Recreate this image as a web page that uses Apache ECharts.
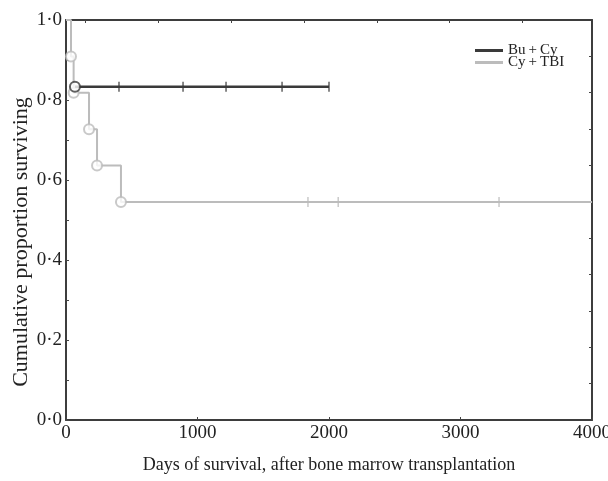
<!DOCTYPE html>
<html>
<head>
<meta charset="utf-8">
<script src="https://cdn.jsdelivr.net/npm/echarts@6/dist/echarts.min.js"></script>
<style>
  html, body { margin: 0; padding: 0; background: #fff; }
  #main { width: 608px; height: 481px; }
</style>
</head>
<body>
<div id="main"></div>
<script>
// Bu+Cy: one death then flat
var buCyTimes = [68, 2000];
var buCySurv = [0.833, 0.833];
var buCyEventTimes = [68];
var buCyEventSurv = [0.833];
var buCyCensorTimes = [403, 890, 1217, 1643, 2000];

// Cy+TBI
var cyTbiTimes = [0, 38, 58, 175, 236, 418, 4000];
var cyTbiSurv = [1.0, 0.909, 0.818, 0.727, 0.636, 0.545, 0.545];
var cyTbiEventTimes = [38, 58, 175, 236, 418];
var cyTbiEventSurv = [0.909, 0.818, 0.727, 0.636, 0.545];
var cyTbiCensorTimes = [1840, 2070, 3293];

var topTicks = [144, 700, 1255, 1810, 2365, 2912, 3468];
var rightTicks = [1/11, 2/11, 3/11, 4/11, 5/11, 6/11, 7/11, 8/11, 9/11, 10/11];
var leftTicks = [0, 0.1, 0.2, 0.3, 0.4, 0.5, 0.6, 0.7, 0.8, 0.9, 1.0];

var dark = '#3a3a3a';
var light = '#bcbcbc';
var serif = '"Liberation Serif", "DejaVu Serif", serif';

function zip(xs, ys) {
  return xs.map(function (x, i) { return [x, ys[i]]; });
}
function censor(xs, y) {
  return xs.map(function (x) { return [x, y]; });
}

var myChart = echarts.init(document.getElementById('main'));

var axisLine = { show: true, onZero: false, lineStyle: { color: '#3d3d3d', width: 2 } };

var option = {
  animation: false,
  grid: { left: 66, right: 16, top: 20, bottom: 61, outerBoundsMode: 'none', containLabel: false },
  legend: {
    orient: 'vertical',
    left: 470,
    top: 38,
    itemWidth: 28,
    itemHeight: 3,
    itemGap: -3,
    icon: 'rect',
    data: ['Bu\u2009+\u2009Cy', 'Cy\u2009+\u2009TBI'],
    textStyle: { fontFamily: serif, fontSize: 15, color: '#222' }
  },
  xAxis: [{
    type: 'value',
    position: 'bottom',
    min: 0,
    max: 4000,
    interval: 1000,
    axisLine: axisLine,
    axisTick: { show: true, inside: true, length: 3, lineStyle: { color: '#444' } },
    splitLine: { show: false },
    axisLabel: {
      fontFamily: serif, fontSize: 19, color: '#222', margin: 4,
      formatter: function (v) { return String(v); }
    },
    name: 'Days of survival, after bone marrow transplantation',
    nameLocation: 'middle',
    nameGap: 36,
    nameTextStyle: { fontFamily: serif, fontSize: 18, color: '#222' }
  }, {
    type: 'value',
    position: 'top',
    min: 0,
    max: 4000,
    axisLine: axisLine,
    axisTick: { show: true, inside: true, length: 3, customValues: topTicks, lineStyle: { color: '#444' } },
    axisLabel: { show: false },
    splitLine: { show: false }
  }],
  yAxis: [{
    type: 'value',
    position: 'left',
    min: 0,
    max: 1,
    interval: 0.2,
    axisLine: axisLine,
    axisTick: { show: true, inside: true, length: 3, customValues: leftTicks, lineStyle: { color: '#444' } },
    splitLine: { show: false },
    axisLabel: {
      fontFamily: serif, fontSize: 19, color: '#222', margin: 4,
      formatter: function (v) { return v.toFixed(1).replace('.', '\u00b7'); }
    },
    name: 'Cumulative proportion surviving',
    nameLocation: 'middle',
    nameGap: 34,
    nameMoveOverlap: false,
    nameTextStyle: { fontFamily: serif, fontSize: 22, color: '#222', padding: [0, 0, 0, -44] }
  }, {
    type: 'value',
    position: 'right',
    min: 0,
    max: 1,
    axisLine: axisLine,
    axisTick: { show: true, inside: true, length: 3, customValues: rightTicks, lineStyle: { color: '#444' } },
    axisLabel: { show: false },
    splitLine: { show: false }
  }],
  series: [
    {
      name: 'Cy\u2009+\u2009TBI',
      type: 'line',
      step: 'end',
      showSymbol: false,
      data: zip(cyTbiTimes, cyTbiSurv),
      lineStyle: { color: light, width: 2 },
      itemStyle: { color: light },
      z: 2
    },
    {
      type: 'scatter',
      symbol: 'rect',
      symbolSize: [1.5, 10],
      data: censor(cyTbiCensorTimes, cyTbiSurv[cyTbiSurv.length - 1]),
      itemStyle: { color: light },
      z: 3
    },
    {
      type: 'scatter',
      symbol: 'circle',
      symbolSize: 10,
      data: zip(cyTbiEventTimes, cyTbiEventSurv),
      itemStyle: { color: '#fff', borderColor: light, borderWidth: 2 },
      z: 3
    },
    {
      name: 'Bu\u2009+\u2009Cy',
      type: 'line',
      step: 'end',
      showSymbol: false,
      data: zip(buCyTimes, buCySurv),
      lineStyle: { color: dark, width: 2.5 },
      itemStyle: { color: dark },
      z: 4
    },
    {
      type: 'scatter',
      symbol: 'rect',
      symbolSize: [1.5, 10],
      data: censor(buCyCensorTimes, buCySurv[0]),
      itemStyle: { color: dark },
      z: 5
    },
    {
      type: 'scatter',
      symbol: 'circle',
      symbolSize: 10,
      data: zip(buCyEventTimes, buCyEventSurv),
      itemStyle: { color: '#fff', borderColor: dark, borderWidth: 2 },
      z: 5
    }
  ]
};

option && myChart.setOption(option);
</script>
</body>
</html>
